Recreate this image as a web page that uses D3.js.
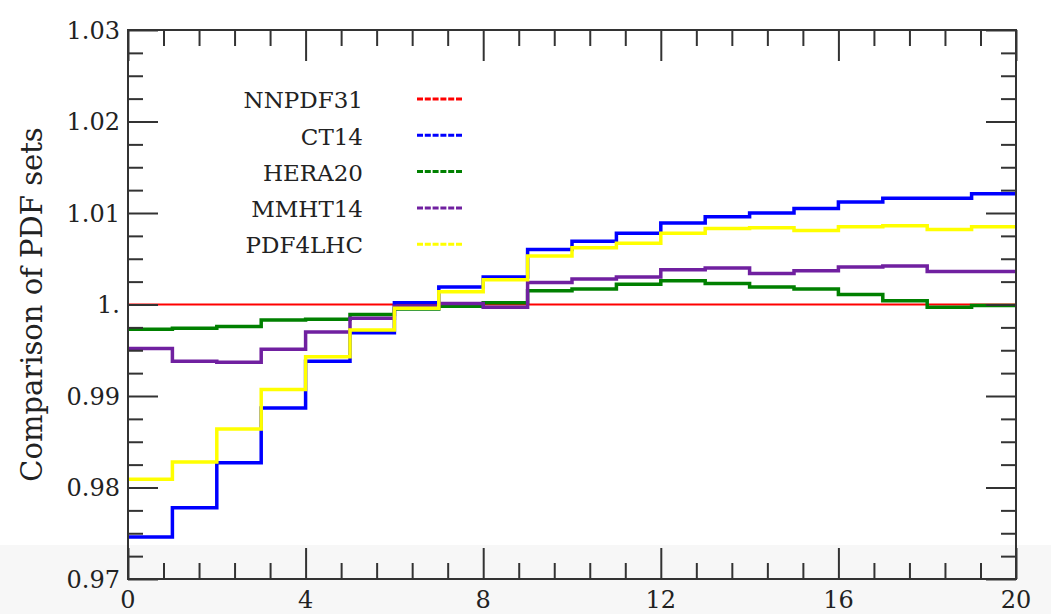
<!DOCTYPE html>
<html>
<head>
<meta charset="utf-8">
<script src="https://cdn.jsdelivr.net/npm/d3@7/dist/d3.min.js"></script>
<style>
  html, body { margin: 0; padding: 0; background: #ffffff; }
  svg { display: block; }
</style>
</head>
<body>
<svg id="chart" width="1051" height="614"></svg>
<script>
// ---- data ----
const binEdges = d3.range(0, 21); // 0..20
const xTicks = [0, 4, 8, 12, 16, 20];
const yTicks = [0.97, 0.98, 0.99, 1.00, 1.01, 1.02, 1.03];
const yTickLabels = ["0.97", "0.98", "0.99", "1.", "1.01", "1.02", "1.03"];
const seriesNames = ["NNPDF31", "CT14", "HERA20", "MMHT14", "PDF4LHC"];
const seriesColors = ["#ff0000", "#0000ff", "#008000", "#7020a0", "#ffff00"];

const nnpdf31 = [1,1,1,1,1,1,1,1,1,1,1,1,1,1,1,1,1,1,1,1];
const ct14 = [0.9746, 0.9778, 0.9827, 0.9887, 0.9938, 0.9969, 1.0002, 1.0019, 1.0030, 1.0060,
              1.0069, 1.0078, 1.0089, 1.0096, 1.0100, 1.0105, 1.0112, 1.0116, 1.0116, 1.0121];
const hera20 = [0.9973, 0.9974, 0.9976, 0.9983, 0.9984, 0.9989, 0.9995, 0.9998, 1.0002, 1.0015,
                1.0017, 1.0022, 1.0026, 1.0023, 1.0019, 1.0017, 1.0011, 1.0004, 0.9997, 0.9999];
const mmht14 = [0.9952, 0.9938, 0.9937, 0.9951, 0.9970, 0.9985, 0.9998, 1.0001, 0.9997, 1.0024,
                1.0028, 1.0030, 1.0038, 1.0040, 1.0034, 1.0037, 1.0041, 1.0042, 1.0036, 1.0036];
const pdf4lhc = [0.9809, 0.9828, 0.9864, 0.9907, 0.9943, 0.9972, 0.9996, 1.0014, 1.0027, 1.0053,
                 1.0062, 1.0067, 1.0078, 1.0083, 1.0084, 1.0081, 1.0085, 1.0086, 1.0082, 1.0085];
const seriesValues = [nnpdf31, ct14, hera20, mmht14, pdf4lhc];

// ---- layout ----
const W = 1051, H = 614;
const L = 128, R = 1016, T = 30, B = 579;
const FONT = "'DejaVu Serif', 'Liberation Serif', 'Times New Roman', serif";
const TXT = "#222";
const svg = d3.select("#chart");

// faint grey band at bottom of the picture
svg.append("rect").attr("x", 0).attr("y", 545).attr("width", W).attr("height", H - 545)
  .attr("fill", "#f7f7f7");

const x = d3.scaleLinear().domain([0, 20]).range([L, R]);
const y = d3.scaleLinear().domain([0.97, 1.03]).range([B, T]);

// ---- series ----
const line = d3.line()
  .x(d => x(d[0]))
  .y(d => y(d[1]))
  .curve(d3.curveStepAfter);

seriesValues.forEach((vals, i) => {
  const pts = binEdges.map((e, j) => [e, vals[Math.min(j, vals.length - 1)]]);
  svg.append("path")
    .datum(pts)
    .attr("fill", "none")
    .attr("stroke", seriesColors[i])
    .attr("stroke-width", i === 0 ? 2 : 3.5)
    .attr("d", line);
});

// ---- axes (ticks on all four sides, pointing inward) ----
const axisColor = "#333";
const xMinor = d3.range(0, 20.0001, 0.8).filter(v => !xTicks.some(t => Math.abs(t - v) < 1e-6));
const yMinor = d3.range(0.97, 1.03001, 0.0025).filter(v => !yTicks.some(t => Math.abs(t - v) < 1e-6));

function addAxis(makeAxis, transform, majorLen, minorLen, ticksMajor, ticksMinor) {
  [[ticksMinor, minorLen], [ticksMajor, majorLen]].forEach(([tv, len]) => {
    const g = svg.append("g").attr("transform", transform)
      .call(makeAxis().tickValues(tv).tickSize(len).tickFormat(""));
    g.select(".domain").remove();
    g.selectAll("text").remove();
    g.selectAll("line").attr("stroke", axisColor).attr("stroke-width", 2);
  });
}

addAxis(() => d3.axisTop(x), `translate(0,${B})`, 31, 16, xTicks, xMinor);
addAxis(() => d3.axisBottom(x), `translate(0,${T})`, 31, 16, xTicks, xMinor);
addAxis(() => d3.axisRight(y), `translate(${L},0)`, 30, 15, yTicks, yMinor);
addAxis(() => d3.axisLeft(y), `translate(${R},0)`, 30, 15, yTicks, yMinor);

// tick labels
svg.append("g").selectAll("text").data(xTicks).join("text")
  .attr("x", d => x(d)).attr("y", 608)
  .attr("text-anchor", "middle")
  .attr("font-family", FONT).attr("fill", TXT)
  .attr("font-size", 24)
  .text(d => String(d));
svg.append("g").selectAll("text").data(yTicks).join("text")
  .attr("x", 120).attr("y", d => y(d))
  .attr("dy", "0.36em")
  .attr("text-anchor", "end")
  .attr("font-family", FONT).attr("fill", TXT)
  .attr("font-size", 24)
  .text((d, i) => yTickLabels[i]);

// frame
svg.append("rect").attr("x", L).attr("y", T).attr("width", R - L).attr("height", B - T)
  .attr("fill", "none").attr("stroke", axisColor).attr("stroke-width", 2);

// y axis title
svg.append("text")
  .attr("transform", `translate(42,${(T + B) / 2}) rotate(-90)`)
  .attr("text-anchor", "middle")
  .attr("font-family", FONT).attr("fill", TXT)
  .attr("font-size", 29)
  .text("Comparison of PDF sets");

// ---- legend ----
const legY0 = 100, legDy = 36.3;
const leg = svg.append("g");
seriesNames.forEach((name, i) => {
  const yy = legY0 + i * legDy;
  leg.append("text")
    .attr("x", 363).attr("y", yy)
    .attr("dy", "0.36em")
    .attr("text-anchor", "end")
    .attr("font-family", FONT).attr("fill", TXT)
    .attr("font-size", 23)
    .text(name);
  leg.append("line")
    .attr("x1", 417).attr("x2", 462)
    .attr("y1", yy - 1).attr("y2", yy - 1)
    .attr("stroke", seriesColors[i])
    .attr("stroke-width", 3)
    .attr("stroke-dasharray", "6,1.8");
});
</script>
</body>
</html>
